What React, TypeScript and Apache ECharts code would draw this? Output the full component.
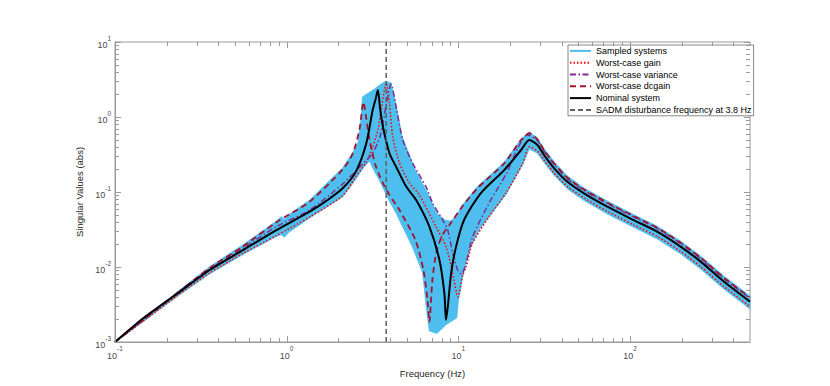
import React, { useEffect, useRef } from "react";
import * as echarts from "echarts";

// ---- Data (frequency in Hz, singular value in abs) ----
const nominalFreq = [0.1, 0.146, 0.229, 0.356, 0.557, 0.871, 1.36, 1.7, 2.12, 2.54, 2.91, 3.17, 3.3, 3.4, 3.5, 3.63, 3.97, 4.34, 4.97, 5.68, 6.78, 7.76, 8.29, 8.48, 9.08, 9.7, 10.8, 13.5, 18.5, 23.2, 25.9, 28.9, 31.6, 36.2, 43.2, 54, 73.8, 105, 144, 197, 258, 352, 500];
const nominalVal = [0.001, 0.00207, 0.00437, 0.00912, 0.0168, 0.031, 0.0546, 0.076, 0.112, 0.19, 0.446, 1.24, 1.75, 2.29, 1.3, 0.76, 0.328, 0.217, 0.118, 0.078, 0.0345, 0.0124, 0.0045, 0.00197, 0.0083, 0.0187, 0.0423, 0.096, 0.196, 0.363, 0.493, 0.423, 0.311, 0.207, 0.137, 0.096, 0.0637, 0.0423, 0.0296, 0.0187, 0.0118, 0.0064, 0.00345];

const gainFreq = [0.1, 0.229, 0.356, 0.557, 0.871, 1.36, 2.12, 2.54, 2.91, 3.17, 3.4, 3.55, 3.71, 3.8, 3.97, 4.15, 4.54, 5.19, 5.93, 7.41, 8.48, 9.27, 9.95, 10.6, 11.1, 12.1, 15.1, 18.9, 23.7, 25.9, 28.9, 31.6, 36.2, 43.2, 54, 73.8, 105, 144, 197, 258, 352, 500];
const gainVal = [0.001, 0.0041, 0.0083, 0.0152, 0.0262, 0.0464, 0.0895, 0.163, 0.251, 0.398, 0.671, 1.24, 2.29, 2.84, 1.54, 0.541, 0.244, 0.132, 0.0912, 0.0345, 0.0187, 0.0083, 0.00398, 0.0078, 0.0101, 0.0207, 0.0469, 0.0962, 0.241, 0.4, 0.35, 0.265, 0.178, 0.118, 0.083, 0.055, 0.0364, 0.0255, 0.0161, 0.0101, 0.0055, 0.00297];

const varianceFreq = [0.1, 0.229, 0.356, 0.557, 0.871, 1.36, 2.12, 2.66, 3.17, 3.52, 3.8, 4.06, 4.34, 4.75, 5.42, 6.48, 7.09, 8.11, 8.67, 9.27, 9.91, 10.4, 11.1, 12.1, 15.1, 18.9, 25.3, 28.9, 31.6, 36.2, 43.2, 54, 73.8, 105, 144, 197, 258, 352, 500];
const varianceVal = [0.001, 0.0045, 0.0094, 0.0178, 0.0345, 0.0575, 0.128, 0.215, 0.331, 0.575, 1.45, 2.75, 1.36, 0.493, 0.241, 0.118, 0.0707, 0.0423, 0.0311, 0.0154, 0.0091, 0.0081, 0.0113, 0.0251, 0.0713, 0.17, 0.575, 0.485, 0.35, 0.233, 0.15, 0.105, 0.07, 0.0465, 0.0325, 0.0205, 0.0129, 0.007, 0.0038];

const dcgainFreq = [0.1, 0.229, 0.356, 0.557, 0.871, 1.36, 2.12, 2.43, 2.66, 2.8, 2.89, 3.04, 3.29, 3.61, 3.97, 4.54, 5.62, 6.26, 6.61, 6.78, 7.06, 7.45, 8.07, 8.87, 10.5, 12.9, 18.5, 23.2, 25.9, 28.9, 31.6, 36.2, 43.2, 54, 73.8, 105, 144, 197, 258, 352, 500];
const dcgainVal = [0.001, 0.0044, 0.0097, 0.0188, 0.0395, 0.0743, 0.2, 0.328, 0.7, 1.58, 1.06, 0.493, 0.229, 0.136, 0.0912, 0.0575, 0.0229, 0.00912, 0.00363, 0.00185, 0.0067, 0.0158, 0.0267, 0.0363, 0.0631, 0.112, 0.241, 0.493, 0.607, 0.5, 0.36, 0.24, 0.155, 0.108, 0.072, 0.0478, 0.0334, 0.0211, 0.0133, 0.0072, 0.0039];

// Envelope of the sampled systems (upper and lower edges of the blue band)
const bandUpperFreq = [0.1, 0.229, 0.356, 0.557, 0.871, 0.93, 0.97, 1.03, 1.36, 2.12, 2.43, 2.6, 2.72, 2.76, 3.2, 3.5, 3.77, 4.05, 4.3, 4.7, 5.6, 6.6, 7.5, 8.4, 9.0, 9.7, 10.5, 12.9, 18.5, 23.2, 25.9, 28.9, 31.6, 36.2, 43.2, 54, 73.8, 105, 144, 197, 258, 352, 500];
const bandUpperVal = [0.00102, 0.0046, 0.0101, 0.0198, 0.041, 0.047, 0.043, 0.05, 0.078, 0.21, 0.34, 0.45, 1.0, 1.85, 2.3, 2.7, 3.0, 2.85, 1.6, 0.55, 0.2, 0.098, 0.052, 0.042, 0.041, 0.047, 0.066, 0.118, 0.25, 0.51, 0.63, 0.525, 0.378, 0.252, 0.163, 0.113, 0.0756, 0.05, 0.035, 0.0222, 0.014, 0.0076, 0.0041];
const bandLowerFreq = [0.1, 0.229, 0.356, 0.557, 0.871, 0.93, 0.97, 1.03, 1.36, 2.12, 2.43, 2.8, 3.04, 3.2, 3.46, 3.97, 4.33, 5.4, 6.2, 6.5, 6.78, 7.5, 8.48, 9.8, 10.0, 10.3, 10.6, 11.6, 13.2, 15.1, 18.9, 23.7, 25.9, 28.9, 31.6, 36.2, 43.2, 54, 73.8, 105, 144, 197, 258, 352, 500];
const bandLowerVal = [0.00098, 0.004, 0.0081, 0.0147, 0.0255, 0.027, 0.025, 0.029, 0.045, 0.086, 0.13, 0.21, 0.26, 0.2, 0.145, 0.075, 0.0525, 0.0185, 0.0083, 0.0029, 0.0014, 0.0013, 0.0017, 0.0021, 0.0035, 0.005, 0.0073, 0.0169, 0.0312, 0.0464, 0.092, 0.23, 0.375, 0.328, 0.247, 0.166, 0.11, 0.077, 0.051, 0.0338, 0.0237, 0.015, 0.0094, 0.0051, 0.00276];

const sadmFreq = [3.8, 3.8];
const sadmVal = [0.001, 10];

const xMajorTicks = [0.1, 1, 10, 100];
const yMajorTicks = [0.001, 0.01, 0.1, 1, 10];
const X_MIN = 0.1;
const X_MAX = 500;
const Y_MIN = 0.001;
const Y_MAX = 10;

const legendNames = [
  "Sampled systems",
  "Worst-case gain",
  "Worst-case variance",
  "Worst-case dcgain",
  "Nominal system",
  "SADM disturbance frequency at 3.8 Hz",
];

const pair = (fs: number[], vs: number[]) => fs.map((f, i) => [f, vs[i]]);

function minorTicks(lo: number, hi: number): number[] {
  const out: number[] = [];
  for (let d = lo; d < hi * 10; d *= 10) {
    for (let m = 2; m <= 9; m++) {
      const v = +(d * m).toPrecision(6);
      if (v > lo && v < hi) out.push(v);
    }
  }
  return out;
}

const FONT = "'Liberation Sans', Arial, Helvetica, sans-serif";
const AXIS_GRAY = "#9a9a9a";
const LABEL = "#4a4a4a";

const powLabel = (v: number) => {
  const l = Math.log10(v);
  const e = Math.round(l);
  if (Math.abs(l - e) > 1e-6) return "";
  return `{b|10}{e|${e}}`;
};
const richLabel = {
  b: { fontSize: 9, color: LABEL, fontFamily: FONT, lineHeight: 15, verticalAlign: "bottom" },
  e: { fontSize: 6.5, color: LABEL, fontFamily: FONT, lineHeight: 7, verticalAlign: "top" },
};

export default function App() {
  const ref = useRef<HTMLDivElement>(null);
  useEffect(() => {
    document.body.style.margin = "0";
    const chart = echarts.init(ref.current!, null, { renderer: "svg" });
    const xMinor = minorTicks(X_MIN, X_MAX);
    const yMinor = minorTicks(Y_MIN, Y_MAX);

    const option: any = {
      animation: false,
      backgroundColor: "#ffffff",
      grid: {
        left: 115,
        right: 80,
        top: 42,
        bottom: 44,
        show: true,
        borderColor: AXIS_GRAY,
        borderWidth: 1,
        backgroundColor: "transparent",
      },
      xAxis: {
        type: "log",
        logBase: 10,
        min: X_MIN,
        max: X_MAX,
        name: "Frequency (Hz)",
        nameLocation: "middle",
        nameGap: 26,
        nameTextStyle: { fontSize: 9.5, color: "#262626", fontFamily: FONT },
        axisLine: { show: true, lineStyle: { color: AXIS_GRAY } },
        axisTick: { show: false },
        minorTick: { show: false },
        splitLine: { show: false },
        axisLabel: {
          margin: 3,
          formatter: powLabel,
          rich: richLabel,
          showMaxLabel: false,
        },
      },
      yAxis: {
        type: "log",
        logBase: 10,
        min: Y_MIN,
        max: Y_MAX,
        name: "Singular Values (abs)",
        nameLocation: "middle",
        nameGap: 15,
        nameTextStyle: { fontSize: 9.5, color: "#262626", fontFamily: FONT },
        axisLine: { show: true, lineStyle: { color: AXIS_GRAY } },
        axisTick: { show: false },
        minorTick: { show: false },
        splitLine: { show: false },
        axisLabel: {
          margin: 4,
          formatter: powLabel,
          rich: richLabel,
        },
      },
      legend: {
        data: legendNames,
        orient: "vertical",
        left: 568,
        top: 45,
        itemWidth: 21,
        itemHeight: 8,
        itemGap: 0,
        padding: [0, 2, 0, 1],
        backgroundColor: "#ffffff",
        borderColor: "#3a3a3a",
        borderWidth: 0.6,
        itemStyle: { opacity: 0 },
        textStyle: { fontSize: 9, color: "#000", fontFamily: FONT, lineHeight: 11.8 },
        selectedMode: false,
      },
      series: [
        {
          type: "custom",
          name: "band",
          coordinateSystem: "cartesian2d",
          data: [[1, 1]],
          silent: true,
          z: 1,
          renderItem: (_p: any, api: any) => {
            const pts: number[][] = [];
            for (let i = 0; i < bandUpperFreq.length; i++) pts.push(api.coord([bandUpperFreq[i], bandUpperVal[i]]));
            for (let i = bandLowerFreq.length - 1; i >= 0; i--) pts.push(api.coord([bandLowerFreq[i], bandLowerVal[i]]));
            return { type: "polygon", shape: { points: pts }, style: { fill: "#4DBEEE", stroke: "#4DBEEE", lineWidth: 0.8 } };
          },
        },
        {
          type: "line",
          name: "Sampled systems",
          data: [],
          symbol: "none",
          lineStyle: { color: "#4DBEEE", width: 1.5 },
          itemStyle: { color: "#4DBEEE" },
        },
        {
          type: "line",
          name: "Worst-case gain",
          data: pair(gainFreq, gainVal),
          symbol: "none",
          smooth: 0.25,
          lineStyle: { color: "#FF0000", width: 1.5, type: [1.5, 2] },
          itemStyle: { color: "#FF0000" },
          z: 3,
        },
        {
          type: "line",
          name: "Worst-case variance",
          data: pair(varianceFreq, varianceVal),
          symbol: "none",
          smooth: 0.25,
          lineStyle: { color: "#7E2F8E", width: 1.5, type: [6, 2.5, 1.5, 2.5] },
          itemStyle: { color: "#7E2F8E" },
          z: 3,
        },
        {
          type: "line",
          name: "Worst-case dcgain",
          data: pair(dcgainFreq, dcgainVal),
          symbol: "none",
          smooth: 0.25,
          lineStyle: { color: "#A2142F", width: 1.8, type: [6, 4] },
          itemStyle: { color: "#A2142F" },
          z: 3,
        },
        {
          type: "line",
          name: "Nominal system",
          data: pair(nominalFreq, nominalVal),
          symbol: "none",
          smooth: 0.25,
          lineStyle: { color: "#000000", width: 2 },
          itemStyle: { color: "#000000" },
          z: 4,
        },
        {
          type: "line",
          name: "SADM disturbance frequency at 3.8 Hz",
          data: pair(sadmFreq, sadmVal),
          symbol: "none",
          lineStyle: { color: "#5f5f5f", width: 1.5, type: [5, 3] },
          itemStyle: { color: "#5f5f5f" },
          z: 5,
        },
        {
          type: "custom",
          name: "ticks",
          coordinateSystem: "cartesian2d",
          data: [[1, 1]],
          silent: true,
          z: 6,
          renderItem: (_p: any, api: any) => {
            const children: any[] = [];
            const [xl, yb] = api.coord([X_MIN, Y_MIN]);
            const [xr, yt] = api.coord([X_MAX, Y_MAX]);
            const mk = (x1: number, y1: number, x2: number, y2: number) => ({
              type: "line",
              shape: { x1, y1, x2, y2 },
              style: { stroke: AXIS_GRAY, lineWidth: 1 },
            });
            const addX = (v: number, len: number) => {
              const px = Math.round(api.coord([v, Y_MIN])[0]) + 0.5;
              children.push(mk(px, yb, px, yb - len), mk(px, yt, px, yt + len));
            };
            const addY = (v: number, len: number) => {
              const py = Math.round(api.coord([X_MIN, v])[1]) + 0.5;
              children.push(mk(xl, py, xl + len, py), mk(xr, py, xr - len, py));
            };
            xMajorTicks.forEach((v) => addX(v, 6));
            xMinor.forEach((v) => addX(v, 4));
            yMajorTicks.forEach((v) => addY(v, 6));
            yMinor.forEach((v) => addY(v, 4));
            return { type: "group", children };
          },
        },
      ],
    };
    chart.setOption(option);
    return () => chart.dispose();
  }, []);
  return <div ref={ref} style={{ width: 830, height: 386 }} />;
}
